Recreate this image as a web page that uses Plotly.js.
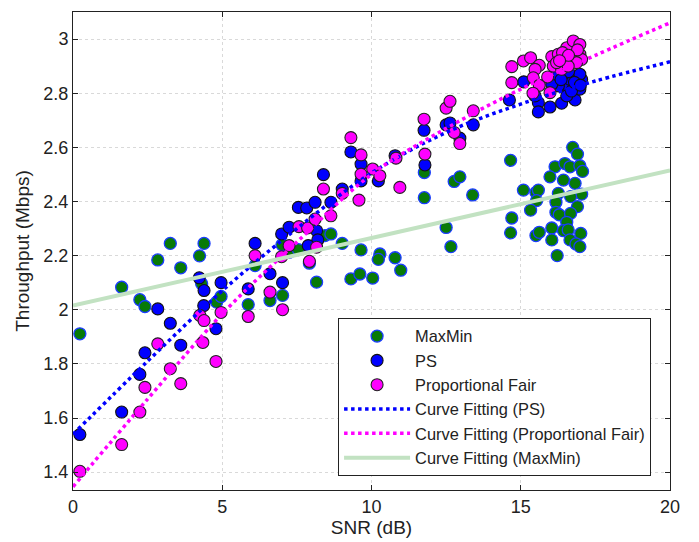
<!DOCTYPE html>
<html>
<head>
<meta charset="utf-8">
<script src="https://cdn.plot.ly/plotly-3.0.1.min.js"></script>
<style>html,body{margin:0;padding:0;background:#fff;}#chart{width:699px;height:542px;}</style>
</head>
<body>
<div id="chart"></div>
<script>
// ---- data ----
const maxminX = [0.23,1.63,2.24,2.41,2.84,3.26,3.61,4.24,4.39,4.31,4.81,4.96,5.87,6.10,6.60,7.02,7.24,7.0,7.55,7.92,8.16,8.44,8.64,9.02,9.31,9.61,9.65,10.04,10.28,10.23,10.79,10.98,11.77,11.77,12.77,12.96,13.39,12.50,12.66,14.66,14.70,14.66,15.09,15.51,15.59,15.53,15.33,15.51,15.62,16.04,16.04,16.22,16.15,15.98,16.48,16.74,16.90,16.65,16.98,17.07,16.43,16.82,16.26,17.04,16.67,16.18,16.90,16.18,16.29,16.67,16.54,16.43,16.59,17.01,16.65,16.85,16.98];
const maxminY = [1.911,2.083,2.037,2.012,2.184,2.245,2.155,2.199,2.245,2.096,2.028,2.049,2.019,2.163,2.034,2.053,2.212,2.24,2.222,2.172,2.102,2.274,2.28,2.245,2.114,2.132,2.221,2.117,2.206,2.186,2.192,2.146,2.507,2.414,2.474,2.491,2.424,2.304,2.233,2.552,2.339,2.284,2.442,2.433,2.442,2.403,2.368,2.274,2.286,2.302,2.258,2.200,2.528,2.491,2.540,2.600,2.575,2.528,2.532,2.511,2.479,2.467,2.430,2.427,2.418,2.397,2.381,2.360,2.351,2.356,2.323,2.292,2.295,2.282,2.258,2.243,2.233];

const psX = [0.23,1.63,2.24,2.41,2.84,3.26,3.61,4.23,4.39,4.38,4.79,4.96,5.87,6.10,6.60,7.02,6.99,7.24,7.55,7.83,8.11,8.16,8.20,7.88,8.64,8.39,9.02,9.31,9.65,9.65,10.23,10.79,11.79,11.76,12.50,12.63,12.96,13.41,14.62,15.10,15.59,15.59,15.98,16.37,16.48,16.82,16.98,17.04,16.09,16.26,16.65,16.98,16.43,16.04,15.48,16.54,16.70,16.20,16.80,16.60,17.00,16.35];
const psY = [1.539,1.622,1.761,1.841,2.003,1.950,1.869,2.118,2.071,2.015,1.930,2.100,2.077,2.245,2.133,2.100,2.280,2.305,2.378,2.376,2.397,2.292,2.258,2.237,2.397,2.499,2.446,2.583,2.538,2.476,2.476,2.569,2.535,2.663,2.683,2.690,2.634,2.683,2.775,2.842,2.765,2.731,2.749,2.763,2.820,2.775,2.815,2.851,2.851,2.827,2.851,2.870,2.870,2.833,2.790,2.790,2.808,2.870,2.840,2.880,2.830,2.850];

const pfX = [0.23,1.63,2.24,2.41,2.84,3.26,3.61,4.25,4.39,4.35,4.79,4.96,5.87,6.10,6.60,7.02,6.99,7.24,7.57,7.86,8.11,8.16,7.92,8.64,8.39,9.02,9.31,9.65,9.65,9.58,10.04,10.28,10.82,10.95,11.76,11.79,12.50,12.63,12.77,12.96,13.41,14.70,14.70,15.09,15.33,15.62,15.48,15.42,15.62,16.04,16.09,16.37,16.54,16.76,16.98,16.98,16.70,16.26,15.98,17.04,16.87,16.20,16.59,16.40,16.90,16.60,16.30,15.41,15.90];
const pfY = [1.403,1.502,1.622,1.713,1.874,1.782,1.727,1.979,1.960,1.879,1.809,1.990,1.975,2.200,2.065,2.000,2.196,2.237,2.307,2.302,2.335,2.231,2.179,2.347,2.446,2.430,2.636,2.572,2.501,2.405,2.520,2.495,2.560,2.452,2.704,2.575,2.745,2.770,2.655,2.614,2.735,2.898,2.839,2.919,2.931,2.903,2.888,2.857,2.829,2.935,2.900,2.888,2.968,2.993,2.980,2.944,2.925,2.944,2.802,2.925,2.913,2.913,2.900,2.950,2.960,2.940,2.920,2.800,2.860];

const fitX   = [0, 2.5, 5, 7.5, 10, 12.5, 15, 17.5, 20];
const psFit  = [1.540, 1.810, 2.070, 2.300, 2.505, 2.655, 2.760, 2.845, 2.916];
const pfFit  = [1.346, 1.670, 1.985, 2.250, 2.500, 2.670, 2.815, 2.940, 3.060];
const mmFitX = [0, 20];
const mmFit  = [2.015, 2.515];

const xTicks = [0, 5, 10, 15, 20];
const yTicks = [1.4, 1.6, 1.8, 2, 2.2, 2.4, 2.6, 2.8, 3];
const yTickText = ['1.4','1.6','1.8','2','2.2','2.4','2.6','2.8','3'];

// ---- traces ----
const FONT = 'Liberation Sans, Arial, Helvetica, sans-serif';
const traces = [
  {x: maxminX, y: maxminY, name: 'MaxMin', mode: 'markers', type: 'scatter',
   marker: {size: 12, color: '#077a07', line: {color: '#1a3cff', width: 1.3}}},
  {x: psX, y: psY, name: 'PS', mode: 'markers', type: 'scatter',
   marker: {size: 12, color: '#0000ff', line: {color: '#111', width: 1.1}}},
  {x: pfX, y: pfY, name: 'Proportional Fair', mode: 'markers', type: 'scatter',
   marker: {size: 12, color: '#ff00ff', line: {color: '#222', width: 1.1}}},
  {x: fitX, y: psFit, name: 'Curve Fitting (PS)', mode: 'lines', type: 'scatter',
   line: {color: '#0000ff', width: 3.5, dash: 'dot', shape: 'spline'}},
  {x: fitX, y: pfFit, name: 'Curve Fitting (Proportional Fair)', mode: 'lines', type: 'scatter',
   line: {color: '#ff00ff', width: 3.5, dash: 'dot', shape: 'spline'}},
  {x: mmFitX, y: mmFit, name: 'Curve Fitting (MaxMin)', mode: 'lines', type: 'scatter',
   line: {color: '#c2e2c2', width: 4}}
];

const axisCommon = {
  showline: true, linecolor: '#222', linewidth: 1, mirror: 'ticks',
  ticks: 'inside', ticklen: 5, tickcolor: '#222',
  showgrid: true, gridcolor: '#d9d9d9', griddash: 'dot', gridwidth: 1,
  zeroline: false, tickfont: {family: FONT, size: 18, color: '#222'}
};

const layout = {
  width: 699, height: 542,
  margin: {l: 73, r: 29, t: 12, b: 52},
  paper_bgcolor: '#ffffff', plot_bgcolor: '#ffffff',
  font: {family: FONT, size: 16, color: '#222'},
  showlegend: true,
  xaxis: Object.assign({}, axisCommon, {
    range: [0, 20], tickvals: xTicks,
    title: {text: 'SNR (dB)', font: {family: FONT, size: 19, color: '#222'}, standoff: 2}
  }),
  yaxis: Object.assign({}, axisCommon, {
    range: [1.334, 3.1], tickvals: yTicks, ticktext: yTickText,
    title: {text: 'Throughput (Mbps)', font: {family: FONT, size: 19, color: '#222'}, standoff: 8}
  }),
  legend: {
    x: 0.444, y: 0.36, xanchor: 'left', yanchor: 'top',
    bgcolor: '#ffffff', bordercolor: '#222', borderwidth: 1,
    font: {family: FONT, size: 16.4, color: '#222'},
    itemwidth: 66, tracegroupgap: 0
  }
};

Plotly.newPlot('chart', traces, layout, {displayModeBar: false, staticPlot: true});
</script>
</body>
</html>
